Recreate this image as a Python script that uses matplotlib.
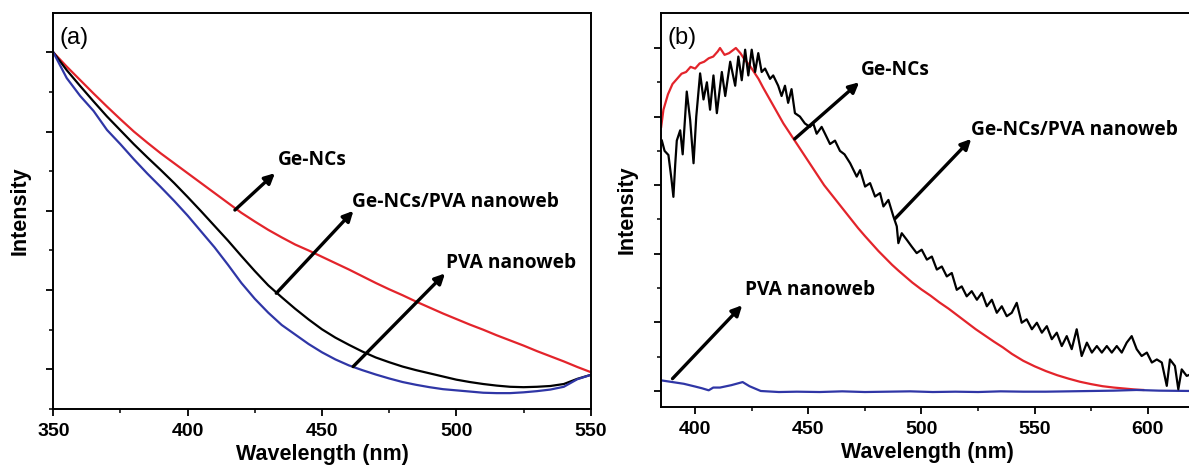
import numpy as np
import matplotlib
matplotlib.use('Agg')
import matplotlib.pyplot as plt
from matplotlib.ticker import FixedLocator, NullFormatter

plt.rcParams['font.family'] = ['Liberation Sans', 'DejaVu Sans']
plt.rcParams['font.weight'] = 'bold'
plt.rcParams['axes.labelweight'] = 'bold'

RED = '#e3242b'
BLUE = '#2f36a6'

# (a) absorption, wavelength grid in nm
abs_wl = [350, 355, 360, 365, 370, 375, 380, 385, 390, 395, 400, 405, 410, 415, 420,
          425, 430, 435, 440, 445, 450, 455, 460, 465, 470, 475, 480, 485, 490, 495,
          500, 505, 510, 515, 520, 525, 530, 535, 540, 545, 550]
abs_ge = [0.900, 0.864, 0.830, 0.796, 0.763, 0.731, 0.700, 0.672, 0.645, 0.620,
          0.595, 0.570, 0.545, 0.520, 0.495, 0.473, 0.452, 0.433, 0.415, 0.400,
          0.384, 0.368, 0.352, 0.335, 0.318, 0.302, 0.287, 0.271, 0.256, 0.241,
          0.227, 0.213, 0.200, 0.186, 0.173, 0.160, 0.146, 0.133, 0.120, 0.106, 0.093]
abs_ge_pva = [0.900, 0.855, 0.815, 0.776, 0.738, 0.703, 0.668, 0.635, 0.603, 0.570,
              0.535, 0.499, 0.462, 0.425, 0.386, 0.348, 0.312, 0.282, 0.253, 0.226,
              0.201, 0.180, 0.162, 0.145, 0.130, 0.118, 0.107, 0.098, 0.090, 0.082,
              0.074, 0.068, 0.063, 0.059, 0.056, 0.055, 0.056, 0.058, 0.063, 0.076, 0.086]
abs_pva = [0.900, 0.835, 0.790, 0.752, 0.704, 0.668, 0.630, 0.594, 0.560, 0.525,
           0.488, 0.448, 0.408, 0.364, 0.318, 0.278, 0.243, 0.212, 0.188, 0.164,
           0.143, 0.125, 0.110, 0.098, 0.087, 0.077, 0.068, 0.061, 0.055, 0.050,
           0.047, 0.044, 0.041, 0.040, 0.040, 0.042, 0.045, 0.049, 0.056, 0.075, 0.086]

# (b) photoluminescence
pl_ge_wl = [385, 386, 388, 390, 392, 394, 396, 398, 400, 402, 404, 406, 408, 410, 411,
            413, 415, 417, 418, 420, 422, 424, 426, 428, 430, 433, 436, 439, 442, 445,
            448, 451, 454, 457, 460, 463, 466, 469, 472, 475, 478, 481, 484, 487, 490,
            493, 496, 500, 504, 508, 512, 516, 520, 524, 528, 532, 536, 540, 545, 550,
            555, 560, 565, 570, 575, 580, 585, 590, 595, 598]
pl_ge = [0.77, 0.82, 0.865, 0.895, 0.91, 0.925, 0.93, 0.945, 0.94, 0.955, 0.96, 0.97,
         0.975, 0.99, 1.0, 0.98, 0.985, 0.995, 1.0, 0.985, 0.965, 0.95, 0.93, 0.91,
         0.885, 0.85, 0.815, 0.78, 0.75, 0.72, 0.69, 0.66, 0.63, 0.60, 0.575, 0.55,
         0.525, 0.50, 0.475, 0.452, 0.43, 0.408, 0.388, 0.368, 0.35, 0.333, 0.316,
         0.296, 0.278, 0.258, 0.24, 0.22, 0.20, 0.18, 0.162, 0.144, 0.127, 0.108,
         0.088, 0.072, 0.058, 0.046, 0.036, 0.027, 0.02, 0.014, 0.01, 0.007, 0.004, 0.003]

pl_ge_pva_wl = [385.3, 386.5, 388.2, 389.5, 390.4, 391.2, 391.9, 393.4, 394.5, 396.3,
                397.8, 399.3, 400.5, 402.2, 403.7, 405.2, 406.6, 408.1, 409.6, 411.8,
                413.3, 415.5, 417.7, 419.1, 420.6, 422.1, 423.5, 425.0, 426.5, 427.9,
                429.4, 430.9, 433.1, 434.5, 436.7, 438.2, 439.7, 441.1, 442.6, 444.1,
                446.3, 448.5, 450.7, 452.2, 453.7, 455.9, 457.4, 459.6, 461.8, 464.0,
                466.0, 468.5, 471.4, 472.9, 475.1, 477.3, 479.5, 481.7, 483.2, 485.4,
                487.6, 489.1, 489.8, 491.3, 493.5, 495.7, 497.9, 500.1, 502.4, 504.6,
                506.8, 509.0, 511.2, 513.4, 515.6, 517.8, 520.0, 522.2, 524.5, 526.7,
                528.9, 531.1, 533.3, 535.5, 537.7, 539.9, 542.1, 544.3, 546.5, 548.8,
                551.0, 553.2, 555.4, 557.6, 559.8, 562.0, 564.2, 566.4, 568.6, 570.8,
                573.1, 575.3, 577.5, 579.7, 581.9, 584.1, 586.3, 588.5, 590.7, 592.9,
                595.1, 597.3, 599.6, 601.8, 604.0, 606.2, 608.4, 609.8, 612.0, 613.5,
                615.0, 617.2, 619.5]
pl_ge_pva = [0.73, 0.70, 0.688, 0.62, 0.566, 0.66, 0.73, 0.76, 0.69, 0.873,
             0.79, 0.664, 0.80, 0.926, 0.85, 0.90, 0.82, 0.92, 0.81, 0.93,
             0.86, 0.96, 0.89, 0.975, 0.906, 0.995, 0.92, 0.995, 0.93, 0.985,
             0.93, 0.94, 0.91, 0.92, 0.89, 0.86, 0.89, 0.84, 0.88, 0.81,
             0.80, 0.78, 0.77, 0.78, 0.75, 0.77, 0.75, 0.72, 0.73, 0.70,
             0.69, 0.664, 0.625, 0.644, 0.596, 0.606, 0.567, 0.577, 0.538, 0.557,
             0.509, 0.480, 0.431, 0.46, 0.441, 0.421, 0.402, 0.412, 0.383, 0.392,
             0.354, 0.363, 0.334, 0.344, 0.295, 0.305, 0.276, 0.291, 0.266, 0.286,
             0.247, 0.266, 0.228, 0.247, 0.218, 0.228, 0.257, 0.199, 0.209, 0.18,
             0.199, 0.17, 0.189, 0.151, 0.17, 0.131, 0.16, 0.122, 0.18, 0.102,
             0.141, 0.112, 0.131, 0.112, 0.131, 0.112, 0.131, 0.112, 0.141, 0.16,
             0.122, 0.102, 0.112, 0.083, 0.092, 0.083, 0.015, 0.092, 0.073, 0.005,
             0.063, 0.044, 0.05]

pl_pva_wl = [385, 390, 395, 400, 403, 406, 408, 411, 416, 421, 424, 429, 437, 445,
             455, 465, 475, 485, 495, 505, 515, 525, 535, 545, 555, 565, 575, 585,
             595, 605, 620]
pl_pva = [0.031, 0.026, 0.021, 0.013, 0.008, 0.002, 0.010, 0.010, 0.017, 0.026,
          0.014, 0.000, -0.003, -0.002, -0.003, -0.001, -0.003, -0.002, -0.001,
          -0.003, -0.002, -0.003, -0.001, -0.002, -0.002, -0.001, 0.000, 0.001,
          0.003, 0.001, 0.000]

fig = plt.figure(figsize=(11.89, 4.76), dpi=100)
ax1 = fig.add_axes([0.0448, 0.1408, 0.452, 0.8326])
ax2 = fig.add_axes([0.5557, 0.145, 0.4494, 0.8284])

lw = 1.6
ax1.plot(abs_wl, abs_ge, color=RED, lw=lw)
ax1.plot(abs_wl, abs_ge_pva, color='black', lw=lw)
ax1.plot(abs_wl, abs_pva, color=BLUE, lw=lw)

ax2.plot(pl_ge_wl, pl_ge, color=RED, lw=lw)
ax2.plot(pl_pva_wl, pl_pva, color=BLUE, lw=lw)
ax2.plot(pl_ge_pva_wl, pl_ge_pva, color='black', lw=lw)

ax1.set_xlim(350, 550)
ax1.set_ylim(0, 1.0)
ax1.xaxis.set_major_locator(FixedLocator([350, 400, 450, 500, 550]))
ax1.xaxis.set_minor_locator(FixedLocator([375, 425, 475, 525]))
ax1.yaxis.set_major_locator(FixedLocator([0.1, 0.3, 0.5, 0.7, 0.9]))
ax1.yaxis.set_minor_locator(FixedLocator([0.0, 0.2, 0.4, 0.6, 0.8]))

ax2.set_xlim(384.8, 620.9)
ax2.set_ylim(-0.0466, 1.103)
ax2.xaxis.set_major_locator(FixedLocator([400, 450, 500, 550, 600]))
ax2.xaxis.set_minor_locator(FixedLocator([425, 475, 525, 575]))
ax2.yaxis.set_major_locator(FixedLocator([0, 0.2, 0.4, 0.6, 0.8, 1.0]))
ax2.yaxis.set_minor_locator(FixedLocator([0.1, 0.3, 0.5, 0.7, 0.9]))

for ax, tag in [(ax1, '(a)'), (ax2, '(b)')]:
    for s in ax.spines.values():
        s.set_linewidth(1.4)
    ax.tick_params(which='major', direction='out', length=5, width=1.3,
                   labelsize=14, pad=5)
    ax.tick_params(which='minor', direction='out', length=3, width=1.1)
    ax.yaxis.set_major_formatter(NullFormatter())
    ax.set_xlabel('Wavelength (nm)', fontsize=15.5, fontweight='bold', labelpad=3)
    ax.set_ylabel('Intensity', fontsize=15.5, fontweight='bold')
    ax.yaxis.set_label_coords(-0.043, 0.5)
    ax.text(0.012, 0.935, tag, transform=ax.transAxes, fontsize=17,
            fontweight='normal', va='center', ha='left')

arrow = dict(arrowstyle='-|>', color='black', lw=2.4, mutation_scale=15,
             shrinkA=0, shrinkB=0)
label_font = dict(family=['Open Sans', 'DejaVu Sans'], fontweight='bold',
                  fontsize=13.8, va='center', ha='left')

# arrows and labels, (a)
ax1.annotate('', xy=(432.5, 0.595), xytext=(417.6, 0.502), arrowprops=arrow)
ax1.text(433.5, 0.628, 'Ge-NCs', **label_font)
ax1.annotate('', xy=(461.7, 0.500), xytext=(433.0, 0.292), arrowprops=arrow)
ax1.text(461.0, 0.521, 'Ge-NCs/PVA nanoweb', **label_font)
ax1.annotate('', xy=(495.8, 0.342), xytext=(461.6, 0.107), arrowprops=arrow)
ax1.text(496.0, 0.368, 'PVA nanoweb', **label_font)

# arrows and labels, (b)
ax2.annotate('', xy=(472.5, 0.90), xytext=(444.0, 0.735), arrowprops=arrow)
ax2.text(473.3, 0.935, 'Ge-NCs', **label_font)
ax2.annotate('', xy=(522.0, 0.735), xytext=(488.4, 0.503), arrowprops=arrow)
ax2.text(521.7, 0.761, 'Ge-NCs/PVA nanoweb', **label_font)
ax2.annotate('', xy=(420.8, 0.25), xytext=(390.0, 0.036), arrowprops=arrow)
ax2.text(422.2, 0.293, 'PVA nanoweb', **label_font)

fig.savefig('out.png', dpi=100)
